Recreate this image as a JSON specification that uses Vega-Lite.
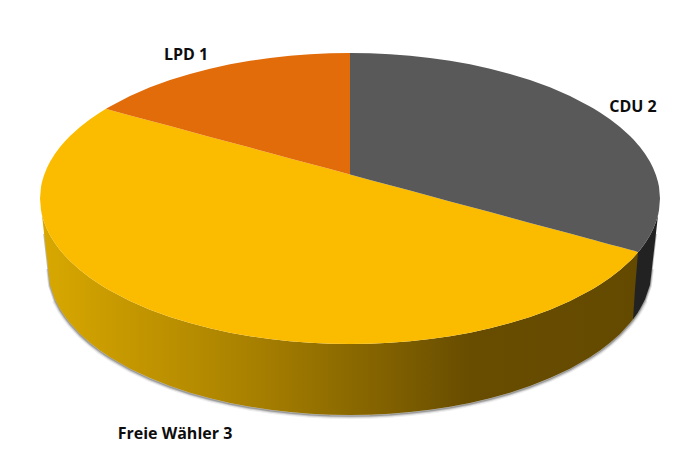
{
  "$schema": "https://vega.github.io/schema/vega-lite/v6.json",
  "description": "3D pie chart of seats: LPD 1, CDU 2, Freie Wähler 3",
  "width": 700,
  "height": 475,
  "autosize": {"type": "fit", "contains": "padding"},
  "padding": 0,
  "background": "white",
  "config": {"view": {"stroke": null}},
  "data": {"values": [
    {"x": 40, "upper": 198.5, "lower": 198.5, "split": 198.5, "rim": 198.5},
    {"x": 41, "upper": 186.8, "lower": 210.2, "split": 186.8, "rim": 210.2},
    {"x": 42, "upper": 182, "lower": 215, "split": 182, "rim": 215.5},
    {"x": 44, "upper": 175.2, "lower": 221.8, "split": 175.2, "rim": 233},
    {"x": 47, "upper": 167.8, "lower": 229.2, "split": 167.8, "rim": 259},
    {"x": 48, "upper": 165.7, "lower": 231.3, "split": 165.7, "rim": 268},
    {"x": 50, "upper": 161.8, "lower": 235.2, "split": 161.8, "rim": 284.9},
    {"x": 55, "upper": 153.8, "lower": 243.2, "split": 153.8, "rim": 299.5},
    {"x": 60, "upper": 147.1, "lower": 249.9, "split": 147.1, "rim": 309},
    {"x": 65, "upper": 141.3, "lower": 255.7, "split": 141.3, "rim": 316.6},
    {"x": 70, "upper": 136.1, "lower": 260.9, "split": 136.1, "rim": 323.1},
    {"x": 80, "upper": 127, "lower": 270, "split": 127, "rim": 333.9},
    {"x": 90, "upper": 119.3, "lower": 277.7, "split": 119.3, "rim": 342.8},
    {"x": 100, "upper": 112.5, "lower": 284.5, "split": 112.5, "rim": 350.5},
    {"x": 106, "upper": 108.8, "lower": 288.2, "split": 108.8, "rim": 354.6},
    {"x": 110, "upper": 106.4, "lower": 290.6, "split": 110, "rim": 357.2},
    {"x": 130, "upper": 96, "lower": 301, "split": 115.4, "rim": 368.7},
    {"x": 150, "upper": 87.3, "lower": 309.7, "split": 120.7, "rim": 378.1},
    {"x": 170, "upper": 80, "lower": 317, "split": 126.1, "rim": 386},
    {"x": 190, "upper": 73.9, "lower": 323.1, "split": 131.5, "rim": 392.7},
    {"x": 210, "upper": 68.7, "lower": 328.3, "split": 136.9, "rim": 398.3},
    {"x": 230, "upper": 64.3, "lower": 332.7, "split": 142.2, "rim": 402.9},
    {"x": 250, "upper": 60.8, "lower": 336.2, "split": 147.6, "rim": 406.7},
    {"x": 270, "upper": 57.9, "lower": 339.1, "split": 153, "rim": 409.7},
    {"x": 290, "upper": 55.8, "lower": 341.2, "split": 158.4, "rim": 412.1},
    {"x": 310, "upper": 54.2, "lower": 342.8, "split": 163.7, "rim": 413.7},
    {"x": 330, "upper": 53.3, "lower": 343.7, "split": 169.1, "rim": 414.7},
    {"x": 350, "upper": 53, "lower": 344, "split": 174.5, "rim": 415},
    {"x": 370, "upper": 53.3, "lower": 343.7, "split": 179.9, "rim": 414.7},
    {"x": 390, "upper": 54.2, "lower": 342.8, "split": 185.3, "rim": 413.7},
    {"x": 410, "upper": 55.8, "lower": 341.2, "split": 190.6, "rim": 412.1},
    {"x": 430, "upper": 57.9, "lower": 339.1, "split": 196, "rim": 409.7},
    {"x": 450, "upper": 60.8, "lower": 336.2, "split": 201.4, "rim": 406.7},
    {"x": 470, "upper": 64.3, "lower": 332.7, "split": 206.8, "rim": 402.9},
    {"x": 490, "upper": 68.7, "lower": 328.3, "split": 212.1, "rim": 398.3},
    {"x": 510, "upper": 73.9, "lower": 323.1, "split": 217.5, "rim": 392.7},
    {"x": 530, "upper": 80, "lower": 317, "split": 222.9, "rim": 386},
    {"x": 550, "upper": 87.3, "lower": 309.7, "split": 228.3, "rim": 378.1},
    {"x": 570, "upper": 96, "lower": 301, "split": 233.6, "rim": 368.7},
    {"x": 590, "upper": 106.4, "lower": 290.6, "split": 239, "rim": 357.2},
    {"x": 594, "upper": 108.8, "lower": 288.2, "split": 240.1, "rim": 354.6},
    {"x": 600, "upper": 112.5, "lower": 284.5, "split": 241.7, "rim": 350.5},
    {"x": 610, "upper": 119.3, "lower": 277.7, "split": 244.4, "rim": 342.8},
    {"x": 620, "upper": 127, "lower": 270, "split": 247.1, "rim": 333.9},
    {"x": 630, "upper": 136.1, "lower": 260.9, "split": 249.8, "rim": 323.1},
    {"x": 633, "upper": 139.1, "lower": 257.9, "split": 250.6, "rim": 319.3, "dark": 319.3},
    {"x": 635, "upper": 141.3, "lower": 255.7, "split": 251.1, "rim": 316.6, "dark": 289},
    {"x": 638, "upper": 144.7, "lower": 252.3, "split": 252.3, "rim": 312.2, "dark": 252.3},
    {"x": 640, "upper": 147.1, "lower": 249.9, "split": 249.9, "rim": 309, "dark": 249.9},
    {"x": 645, "upper": 153.8, "lower": 243.2, "split": 243.2, "rim": 299.5, "dark": 243.2},
    {"x": 650, "upper": 161.8, "lower": 235.2, "split": 235.2, "rim": 284.9, "dark": 235.2},
    {"x": 652, "upper": 165.7, "lower": 231.3, "split": 231.3, "rim": 268, "dark": 231.3},
    {"x": 653, "upper": 167.8, "lower": 229.2, "split": 229.2, "rim": 259, "dark": 229.2},
    {"x": 656, "upper": 175.2, "lower": 221.8, "split": 221.8, "rim": 233, "dark": 221.8},
    {"x": 658, "upper": 182, "lower": 215, "split": 215, "rim": 215.5, "dark": 215},
    {"x": 659, "upper": 186.8, "lower": 210.2, "split": 210.2, "rim": 210.2, "dark": 210.2},
    {"x": 660, "upper": 198.5, "lower": 198.5, "split": 198.5, "rim": 198.5, "dark": 198.5}
  ]},
  "encoding": {
    "x": {"field": "x", "type": "quantitative", "scale": {"domain": [0, 700], "nice": false, "zero": false}, "axis": null}
  },
  "layer": [
    {
      "transform": [{"filter": "datum.rim >= 285"}],
      "mark": {"type": "line", "stroke": "#555555", "strokeWidth": 6, "opacity": 0.1, "yOffset": 1},
      "encoding": {"y": {"field": "rim", "type": "quantitative", "scale": {"domain": [475, 0], "nice": false, "zero": false}, "axis": null}}
    },
    {
      "transform": [{"filter": "datum.rim >= 268"}],
      "mark": {"type": "line", "stroke": "#555555", "strokeWidth": 3.5, "opacity": 0.22, "yOffset": 1},
      "encoding": {"y": {"field": "rim", "type": "quantitative"}}
    },
    {
      "transform": [{"filter": "datum.rim >= 233"}],
      "mark": {"type": "line", "stroke": "#555555", "strokeWidth": 1.5, "opacity": 0.4, "yOffset": 1},
      "encoding": {"y": {"field": "rim", "type": "quantitative"}}
    },
    {
      "transform": [{"filter": "datum.x <= 638"}],
      "mark": {
        "type": "area",
        "color": {
          "gradient": "linear", "x1": 0, "y1": 0, "x2": 1, "y2": 0,
          "stops": [
            {"offset": 0, "color": "#d9a800"},
            {"offset": 0.35, "color": "#a98100"},
            {"offset": 0.72, "color": "#684d00"},
            {"offset": 1, "color": "#644a00"}
          ]
        }
      },
      "encoding": {"y": {"field": "lower", "type": "quantitative"}, "y2": {"field": "rim"}}
    },
    {
      "transform": [{"filter": "isValid(datum.dark)"}],
      "mark": {"type": "area", "color": "#222222"},
      "encoding": {"y": {"field": "dark", "type": "quantitative"}, "y2": {"field": "rim"}}
    },
    {
      "mark": {"type": "area", "color": "#fbbc00"},
      "encoding": {"y": {"field": "split", "type": "quantitative"}, "y2": {"field": "lower"}}
    },
    {
      "transform": [{"filter": "datum.x >= 350"}],
      "mark": {"type": "area", "color": "#595959"},
      "encoding": {"y": {"field": "upper", "type": "quantitative"}, "y2": {"field": "split"}}
    },
    {
      "transform": [{"filter": "datum.x <= 350"}],
      "mark": {"type": "area", "color": "#e26b0a"},
      "encoding": {"y": {"field": "upper", "type": "quantitative"}, "y2": {"field": "split"}}
    },
    {
      "data": {"values": [
        {"party": "LPD", "seats": 1, "label": "LPD 1", "x": 186, "y": 55},
        {"party": "CDU", "seats": 2, "label": "CDU 2", "x": 633, "y": 107},
        {"party": "Freie Wähler", "seats": 3, "label": "Freie Wähler 3", "x": 175, "y": 434}
      ]},
      "mark": {"type": "text", "font": "Open Sans", "fontSize": 16, "fontWeight": "bold", "color": "#0d0d0d"},
      "encoding": {
        "y": {"field": "y", "type": "quantitative"},
        "text": {"field": "label"}
      }
    }
  ]
}
